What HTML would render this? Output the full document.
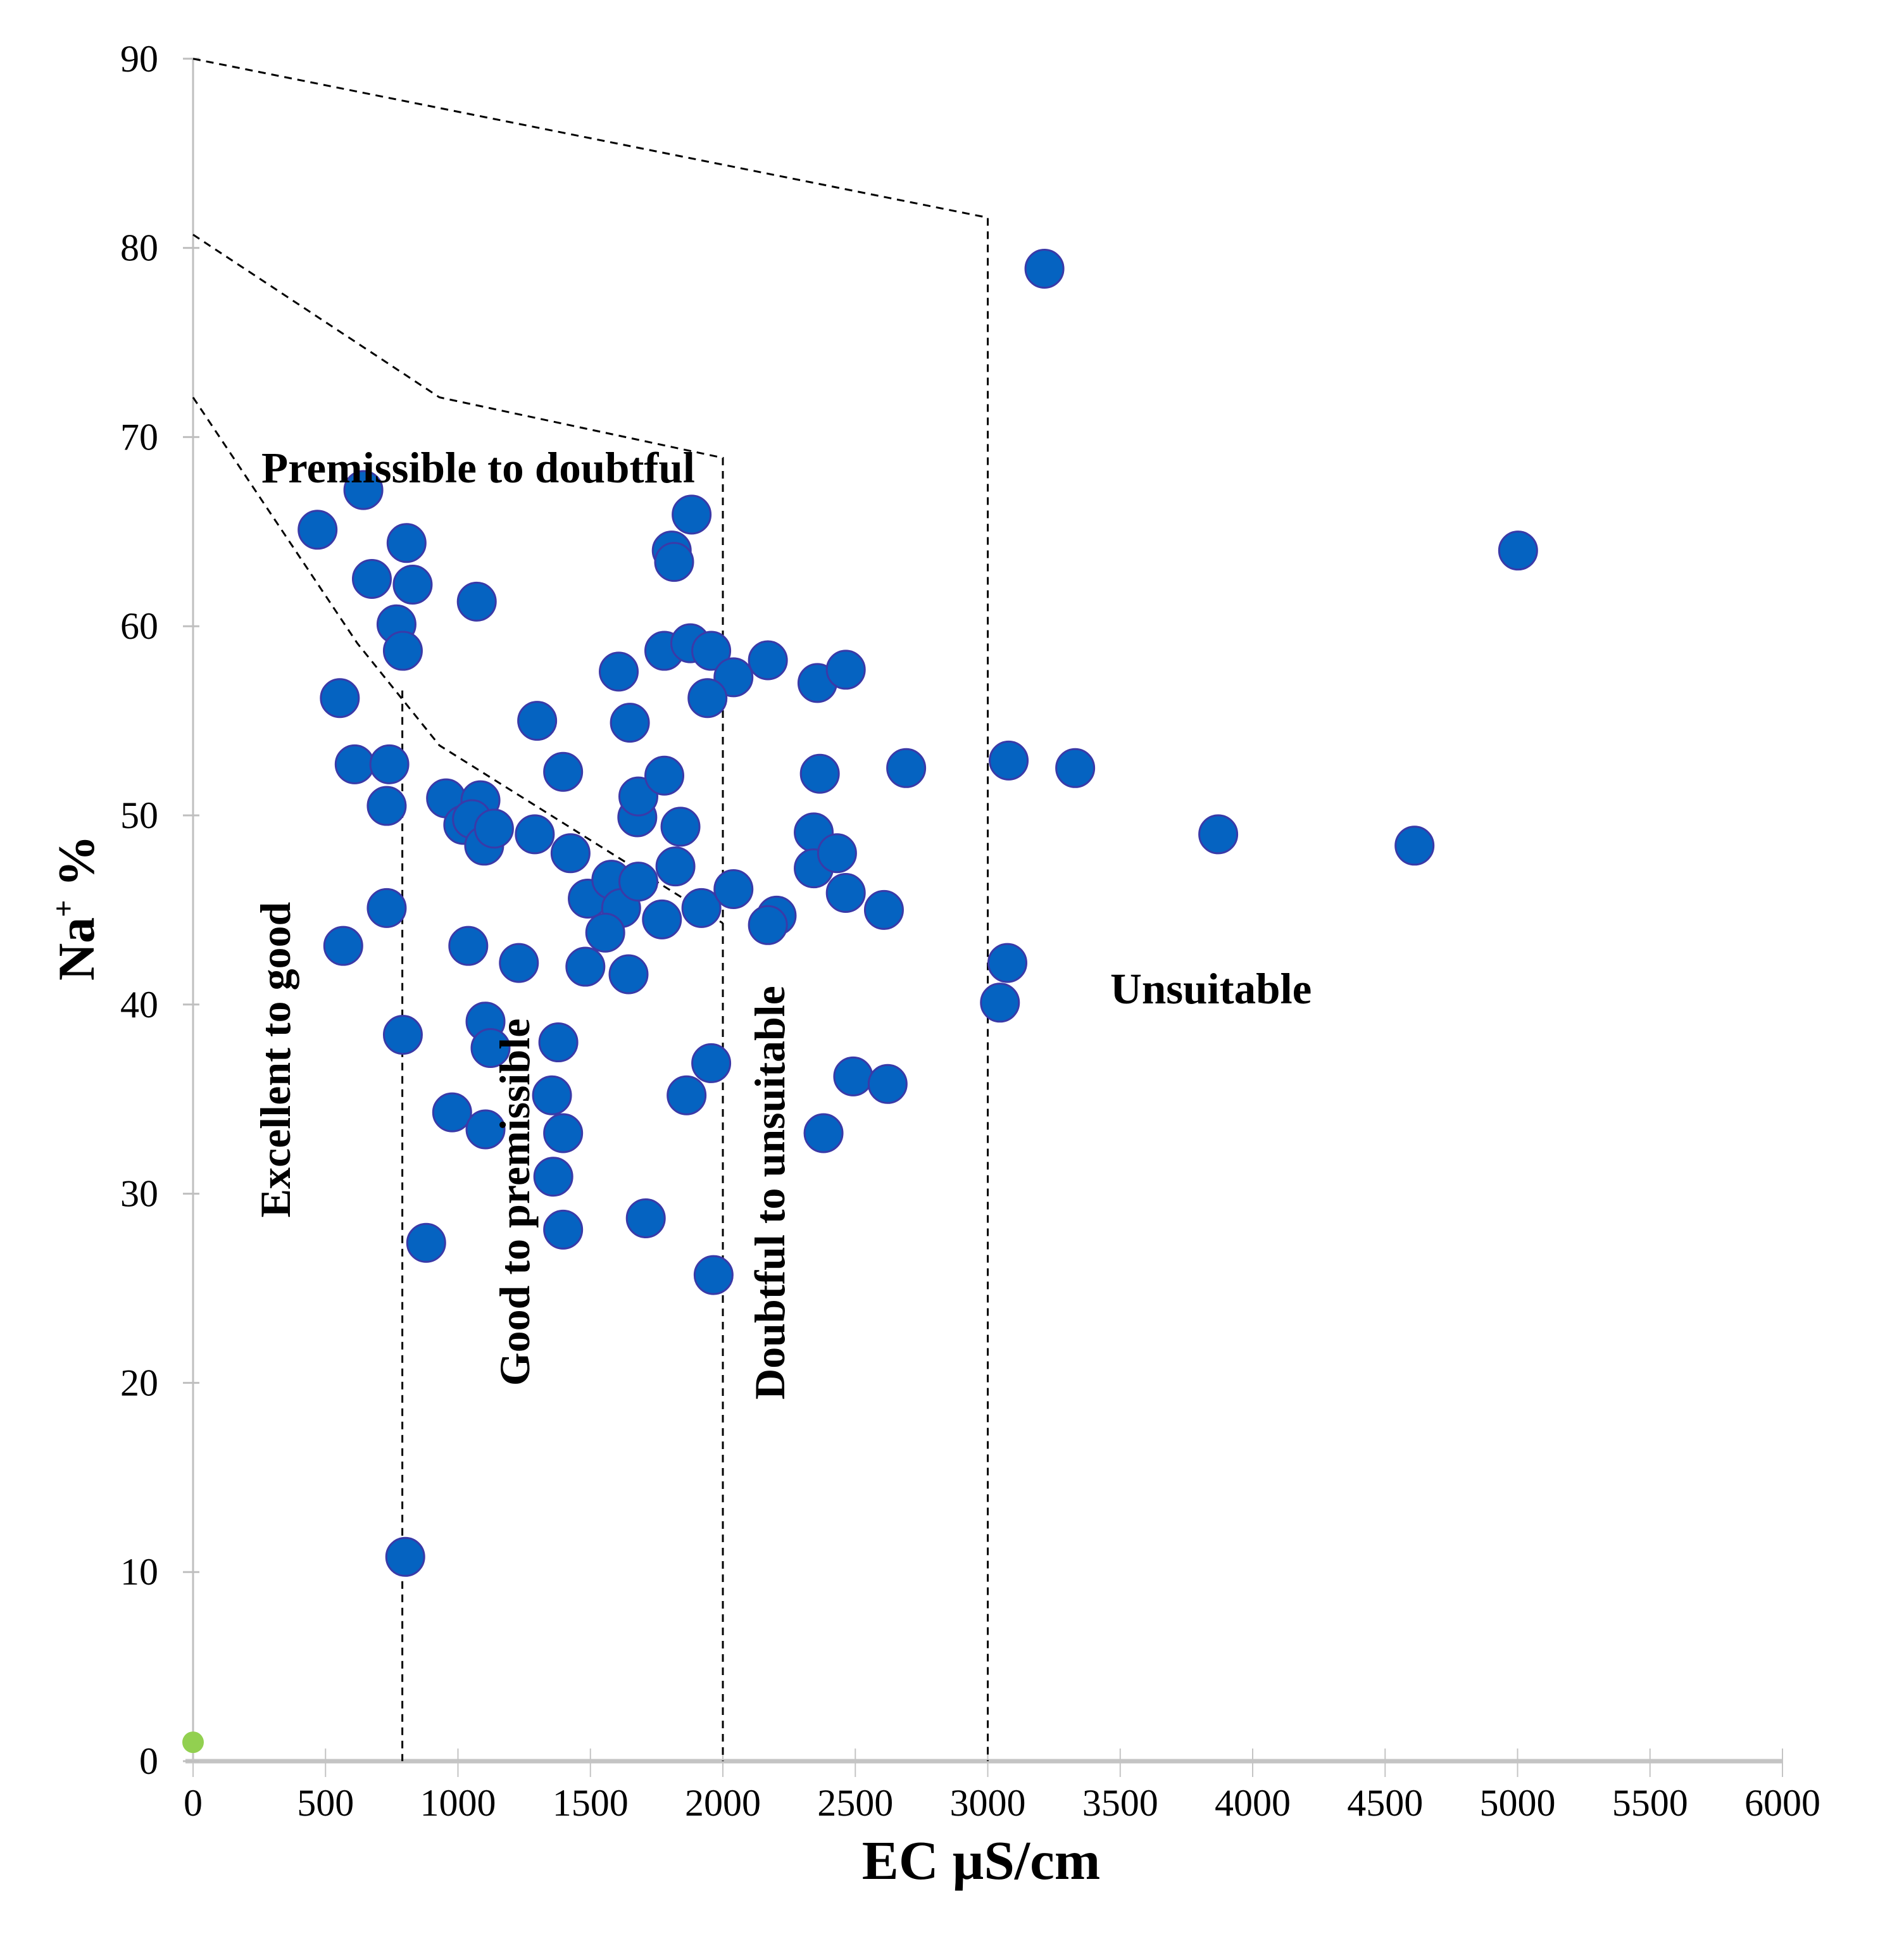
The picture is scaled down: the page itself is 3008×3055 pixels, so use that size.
<!DOCTYPE html>
<html><head><meta charset="utf-8"><style>
html,body{margin:0;padding:0;background:#fff}
svg{display:block}
text{font-family:"Liberation Serif",serif;fill:#000}
</style></head><body>
<svg id="chart" width="3008" height="3055" viewBox="0 0 3008 3055" xmlns="http://www.w3.org/2000/svg">
<g id="axes"></g>
<g id="bounds"></g>
<g id="pts"></g>
<g id="labels">
<text x="413" y="762" font-size="69" font-weight="bold">Premissible to doubtful</text>
<text x="1754" y="1585" font-size="69" font-weight="bold">Unsuitable</text>
<text transform="translate(458,1674) rotate(-90)" text-anchor="middle" font-size="68" font-weight="bold">Excellent to good</text>
<text transform="translate(836,1899) rotate(-90)" text-anchor="middle" font-size="68" font-weight="bold">Good to premissible</text>
<text transform="translate(1239,1884) rotate(-90)" text-anchor="middle" font-size="68" font-weight="bold">Doubtful to unsuitable</text>
<text transform="translate(148,1434) rotate(-90)" text-anchor="middle" font-size="82" font-weight="bold">Na<tspan font-size="48" dy="-32">+</tspan><tspan dy="32"> %</tspan></text>
<text x="1550" y="2968" text-anchor="middle" font-size="87" font-weight="bold">EC µS/cm</text>
</g>
</svg>
<script>
const ecValues=[3214,5002,470,643,806,675,829,1071,768,792,554,610,741,731,955,1020,1085,1053,1099,1136,1299,1397,1290,1425,1490,1579,1616,1556,1681,1677,1681,1779,1649,1607,1779,1877,1956,2040,1942,2170,2357,2464,1807,1816,1882,1840,1821,1770,1919,2040,2203,2170,2366,2343,2343,2431,2464,2608,2692,3079,3330,3870,4611,3074,3046,731,567,1039,1230,1481,1644,792,1104,1123,1379,978,1104,1355,1397,1360,1397,880,1709,1863,1956,1965,2380,2492,2622,801];
const naValues=[78.9,64.0,65.1,67.2,64.4,62.5,62.2,61.3,60.1,58.7,56.2,52.7,52.7,50.5,50.9,49.5,50.8,49.8,48.4,49.3,55.0,52.3,49.0,48.0,45.6,46.6,45.1,43.8,46.5,49.9,51.0,52.1,54.9,57.6,58.7,59.1,58.7,57.3,56.2,58.2,57.0,57.7,64.0,63.4,65.9,49.4,47.3,44.5,45.1,46.1,44.7,44.2,52.2,49.1,47.2,48.0,45.9,45.0,52.5,52.9,52.5,49.0,48.4,42.2,40.1,45.1,43.1,43.1,42.2,42.0,41.6,38.4,39.1,37.7,38.0,34.3,33.4,35.2,33.2,30.9,28.1,27.4,28.7,35.2,36.9,25.7,33.2,36.2,35.8,10.8];
const originEc=[0];
const originNa=[1.0];
const xTicks=[0,500,1000,1500,2000,2500,3000,3500,4000,4500,5000,5500,6000];
const yTicks=[0,10,20,30,40,50,60,70,80,90];
const upperBoundEc=[0,3000,3000];
const upperBoundNa=[90,81.6,0];
const midBoundEc=[0,930,2000,2000];
const midBoundNa=[80.7,72.1,68.9,0];
const lowBoundEc=[0,620,930,2000];
const lowBoundNa=[72.1,59.1,53.7,44.3];
const excBoundEc=[790,790];
const excBoundNa=[56.6,0];

const NS="http://www.w3.org/2000/svg";
const X0=305,X1=2816,Y0=2782,YS=29.88;
const sx=v=>X0+v/6000*(X1-X0);
const sy=v=>Y0-v*YS;
function mk(tag,attrs,parent){const e=document.createElementNS(NS,tag);for(const k in attrs)e.setAttribute(k,attrs[k]);parent.appendChild(e);return e;}
const axes=document.getElementById('axes');
let l=mk('line',{x1:X0,y1:sy(90),x2:X0,y2:Y0,stroke:'#bfbfbf','stroke-width':3},axes);


l=mk('line',{x1:X0-12,y1:Y0,x2:X1,y2:Y0,stroke:'#c4c4c4','stroke-width':7},axes);


xTicks.forEach(t=>{
 const tk=mk('line',{x1:sx(t),y1:Y0-20,x2:sx(t),y2:Y0+25,stroke:'#c4c4c4','stroke-width':2},axes);
 
 
 const tx=mk('text',{x:sx(t),y:2868,'text-anchor':'middle','font-size':60},axes);
 tx.textContent=t;
 
 
});
yTicks.forEach(t=>{
 const tk=mk('line',{x1:X0-16,y1:sy(t),x2:X0+10,y2:sy(t),stroke:'#bfbfbf','stroke-width':3},axes);
 
 
 const tx=mk('text',{x:250,y:sy(t)+20,'text-anchor':'end','font-size':60},axes);
 tx.textContent=t;
 
 
});
const bounds=document.getElementById('bounds');
[[upperBoundEc,upperBoundNa,'boundary-upper'],[midBoundEc,midBoundNa,'boundary-middle'],[lowBoundEc,lowBoundNa,'boundary-lower'],[excBoundEc,excBoundNa,'boundary-excellent']].forEach(b=>{
 const pts=b[0].map((e,i)=>sx(e)+','+sy(b[1][i])).join(' ');
 const p=mk('polyline',{points:pts,fill:'none',stroke:'#000','stroke-width':3,'stroke-dasharray':'12 9'},bounds);
 
 
});
const g=document.getElementById('pts');
ecValues.forEach((e,i)=>{
 const c=mk('circle',{cx:sx(e),cy:sy(naValues[i]),r:30,fill:'#0563c1',stroke:'#3a3aa8','stroke-width':3},g);
 
 
});
originEc.forEach((e,i)=>{
 const c=mk('circle',{cx:sx(e),cy:sy(originNa[i]),r:17,fill:'#92d050'},g);
 
 
});
</script>
</body></html>
